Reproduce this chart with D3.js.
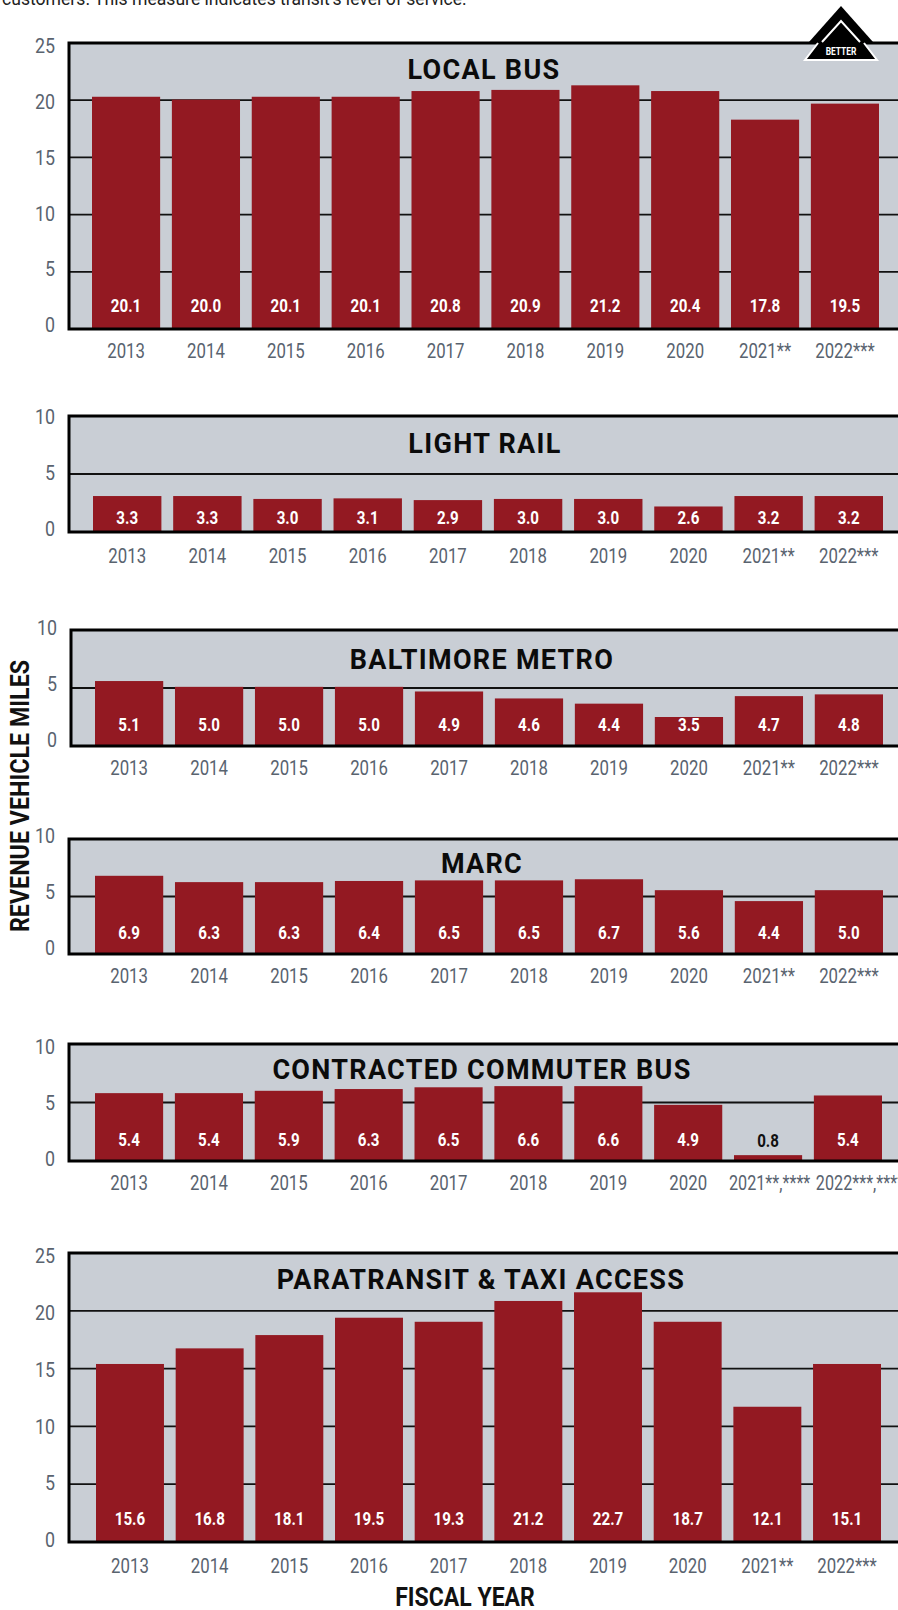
<!DOCTYPE html>
<html>
<head>
<meta charset="utf-8">
<script src="https://cdn.jsdelivr.net/npm/d3@7"></script>
<style>
  html, body { margin: 0; padding: 0; background: #fff; overflow: hidden; }
  svg { display: block; }
  .tick text { font-family: Roboto, sans-serif; fill: #59636f; }
</style>
</head>
<body>
<svg id="chart"></svg>
<script>
// Data
const years = ["2013", "2014", "2015", "2016", "2017", "2018", "2019", "2020", "2021**", "2022***"];
const yearsCommuter = ["2013", "2014", "2015", "2016", "2017", "2018", "2019", "2020", "2021**,****", "2022***,****"];

// bar heights as drawn (they do not always agree with the printed labels)
const localBusBars = [20.3, 20.05, 20.3, 20.3, 20.8, 20.9, 21.3, 20.8, 18.3, 19.7];
const lightRailBars = [3.1, 3.1, 2.85, 2.9, 2.75, 2.85, 2.85, 2.2, 3.1, 3.1];
const metroBars = [5.6, 5.1, 5.1, 5.1, 4.7, 4.1, 3.65, 2.5, 4.3, 4.45];
const marcBars = [6.8, 6.25, 6.25, 6.35, 6.4, 6.4, 6.5, 5.55, 4.6, 5.55];
const commuterBars = [5.8, 5.8, 6, 6.15, 6.3, 6.4, 6.4, 4.8, 0.5, 5.6];
const paratransitBars = [15.4, 16.75, 17.9, 19.4, 19.05, 20.85, 21.6, 19.05, 11.7, 15.4];

// printed labels
const localBusLabels = ["20.1", "20.0", "20.1", "20.1", "20.8", "20.9", "21.2", "20.4", "17.8", "19.5"];
const lightRailLabels = ["3.3", "3.3", "3.0", "3.1", "2.9", "3.0", "3.0", "2.6", "3.2", "3.2"];
const metroLabels = ["5.1", "5.0", "5.0", "5.0", "4.9", "4.6", "4.4", "3.5", "4.7", "4.8"];
const marcLabels = ["6.9", "6.3", "6.3", "6.4", "6.5", "6.5", "6.7", "5.6", "4.4", "5.0"];
const commuterLabels = ["5.4", "5.4", "5.9", "6.3", "6.5", "6.6", "6.6", "4.9", "0.8", "5.4"];
const paratransitLabels = ["15.6", "16.8", "18.1", "19.5", "19.3", "21.2", "22.7", "18.7", "12.1", "15.1"];

const ticks25 = [0, 5, 10, 15, 20, 25];
const ticks10 = [0, 5, 10];

const width = 898, height = 1610;
const gridColor = "#111", bgColor = "#c9ced5", barColor = "#931922";
const font = "Roboto, sans-serif";

// Panels: left/top/bottom are the plot frame, barLeft/barSpan the run of bars.
// The tick numbers sit a little off their gridlines in the original, hence labelTop/labelBottom.
const panels = [
    {title: "LOCAL BUS", cats: years, bars: localBusBars, labels: localBusLabels, max: 25, ticks: ticks25, left: 69, top: 43, bottom: 329, barLeft: 92, barSpan: 787, titleX: 484, titleBase: 79, labelTop: 46, labelBottom: 325, xPad: 14, valueUp: 17},
    {title: "LIGHT RAIL", cats: years, bars: lightRailBars, labels: lightRailLabels, max: 10, ticks: ticks10, left: 69, top: 416, bottom: 532, barLeft: 93, barSpan: 790, titleX: 485, titleBase: 453, labelTop: 417, labelBottom: 529, xPad: 16, valueUp: 8},
    {title: "BALTIMORE METRO", cats: years, bars: metroBars, labels: metroLabels, max: 10, ticks: ticks10, left: 71, top: 630, bottom: 746, barLeft: 95, barSpan: 788, titleX: 482, titleBase: 669, labelTop: 628, labelBottom: 740, xPad: 14, valueUp: 15},
    {title: "MARC", cats: years, bars: marcBars, labels: marcLabels, max: 10, ticks: ticks10, left: 69, top: 839, bottom: 954, barLeft: 95, barSpan: 788, titleX: 482, titleBase: 873, labelTop: 836, labelBottom: 948, xPad: 14, valueUp: 15},
    {title: "CONTRACTED COMMUTER BUS", cats: yearsCommuter, bars: commuterBars, labels: commuterLabels, max: 10, ticks: ticks10, left: 69, top: 1044, bottom: 1161, barLeft: 95, barSpan: 787, titleX: 482, titleBase: 1079, labelTop: 1047, labelBottom: 1159, xPad: 14, valueUp: 15},
    {title: "PARATRANSIT & TAXI ACCESS", cats: years, bars: paratransitBars, labels: paratransitLabels, max: 25, ticks: ticks25, left: 69, top: 1253, bottom: 1542, barLeft: 96, barSpan: 785, titleX: 481, titleBase: 1289, labelTop: 1256, labelBottom: 1540, xPad: 16, valueUp: 17}
];

// the long commuter labels start near the bar edge instead of being centred
const startOffsets = {"2021**,****": -5, "2022***,****": 2};

// No condensed font is installed, so squeeze Roboto with textLength
const condense = (selection, factor) => {
    selection.each(function (d) {
        const f = typeof factor === "function" ? factor(d) : factor;
        const len = this.getComputedTextLength();
        d3.select(this).attr("textLength", len * f).attr("lengthAdjust", "spacingAndGlyphs");
    });
};

const svg = d3.select("#chart").attr("width", width).attr("height", height);

// clipped intro line at the very top
svg.append("text")
    .attr("x", 2).attr("y", 5)
    .style("font-family", font).style("font-size", "17.6px").style("fill", "#222")
    .text("customers. This measure indicates transit’s level of service.");

const drawPanel = (p) => {
    const g = svg.append("g");
    const y = d3.scaleLinear().domain([0, p.max]).range([p.bottom, p.top]);
    const yLabels = d3.scaleLinear().domain([0, p.max]).range([p.labelBottom, p.labelTop]);
    const x = d3.scaleBand().domain(p.cats)
        .range([p.barLeft, p.barLeft + p.barSpan]).paddingInner(0.147).paddingOuter(0);

    g.append("rect")
        .attr("x", p.left).attr("y", p.top)
        .attr("width", width - p.left).attr("height", p.bottom - p.top)
        .style("fill", bgColor);

    g.selectAll(".grid").data(p.ticks.filter((t) => t > 0 && t < p.max)).enter()
        .append("line").attr("class", "grid")
        .attr("x1", p.left).attr("x2", width)
        .attr("y1", (d) => y(d)).attr("y2", (d) => y(d))
        .style("stroke", gridColor).style("stroke-width", 1.8);

    g.selectAll(".bar").data(p.bars).enter()
        .append("rect").attr("class", "bar")
        .attr("x", (d, i) => x(p.cats[i])).attr("width", x.bandwidth())
        .attr("y", (d) => y(d)).attr("height", (d) => y(0) - y(d))
        .style("fill", barColor);

    // frame: top, left and bottom only, the right side runs off the page
    g.append("path")
        .attr("d", d3.line()([[width, p.top], [p.left, p.top], [p.left, p.bottom], [width, p.bottom]]))
        .style("fill", "none").style("stroke", "#000").style("stroke-width", 3);

    // small bars get their label above in black
    g.selectAll(".value").data(p.labels).enter()
        .append("text").attr("class", "value")
        .attr("x", (d, i) => x(p.cats[i]) + x.bandwidth() / 2)
        .attr("y", (d, i) => p.bars[i] < 1 ? y(p.bars[i]) - 8 : p.bottom - p.valueUp)
        .attr("text-anchor", "middle")
        .style("font-family", font).style("font-weight", 700).style("font-size", "18px")
        .style("fill", (d, i) => p.bars[i] < 1 ? "#111" : "#fff")
        .text((d) => d)
        .call(condense, 0.84);

    g.append("text")
        .attr("x", p.titleX).attr("y", p.titleBase)
        .attr("text-anchor", "middle")
        .style("font-family", font).style("font-weight", 700).style("font-size", "27px")
        .style("letter-spacing", "1.3px").style("fill", "#0b0b0b")
        .text(p.title);

    const yAxis = d3.axisLeft(yLabels).tickValues(p.ticks).tickSize(0).tickPadding(14);
    g.append("g").attr("transform", `translate(${p.left},0)`).call(yAxis)
        .call((a) => a.select(".domain").remove())
        .call((a) => a.selectAll("text").style("font-size", "21px").call(condense, 0.85));

    const xAxis = d3.axisBottom(x).tickSize(0).tickPadding(p.xPad);
    g.append("g").attr("transform", `translate(0,${p.bottom})`).call(xAxis)
        .call((a) => a.select(".domain").remove())
        .call((a) => a.selectAll("text").style("font-size", "21px").each(function (d) {
            if (d in startOffsets) d3.select(this).attr("text-anchor", "start").attr("x", startOffsets[d] - x.bandwidth() / 2);
        }).call(condense, (d) => d in startOffsets ? 0.77 : 0.8));
};

panels.forEach(drawPanel);

// "better" arrow at the top right
const badge = svg.append("g").attr("transform", "translate(841,6)");
badge.append("path").attr("d", "M0,0 L32,36 L-32,36 Z").style("fill", "#000");
badge.append("path").attr("d", "M-19,36 L0,15 L19,36").style("fill", "none").style("stroke", "#fff").style("stroke-width", 2);
badge.append("path").attr("d", "M-23,37 L-36,54 L36,54 L23,37 Z").style("fill", "#000");
badge.append("path").attr("d", "M-23,37 L-36,54 L36,54 L23,37").style("fill", "none").style("stroke", "#fff").style("stroke-width", 2);
badge.append("text").attr("x", 0).attr("y", 49).attr("text-anchor", "middle")
    .style("font-family", font).style("font-weight", 700).style("font-size", "10.5px").style("fill", "#fff")
    .text("BETTER")
    .call(condense, 0.8);

// shared axis titles
svg.append("text")
    .attr("transform", "translate(29,796) rotate(-90)")
    .attr("text-anchor", "middle")
    .style("font-family", font).style("font-weight", 700).style("font-size", "25px").style("fill", "#111")
    .text("REVENUE VEHICLE MILES")
    .call(condense, 0.93);

svg.append("text")
    .attr("x", 465).attr("y", 1606)
    .attr("text-anchor", "middle")
    .style("font-family", font).style("font-weight", 700).style("font-size", "25px").style("fill", "#111")
    .text("FISCAL YEAR")
    .call(condense, 0.92);
</script>
</body>
</html>
